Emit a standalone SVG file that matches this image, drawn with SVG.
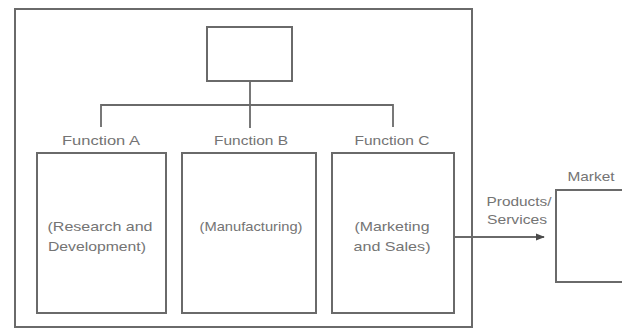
<svg xmlns="http://www.w3.org/2000/svg" width="622" height="329" viewBox="0 0 622 329">
  <style>
    .box { fill: #ffffff; stroke: #6a6a6a; stroke-width: 2; }
    .line { fill: none; stroke: #6a6a6a; stroke-width: 1.8; }
    .lbl { font-family: "Liberation Sans", Arial, sans-serif; font-size: 13px; fill: #747474; text-anchor: middle; }
  </style>
  <defs>
    <marker id="arrow" viewBox="0 0 10 10" refX="9" refY="5" markerWidth="5" markerHeight="5" orient="auto">
      <path d="M0,1 L10,5 L0,9 z" fill="#4a4a4a"/>
    </marker>
  </defs>
  <rect width="622" height="329" fill="#ffffff"/>

  <g id="organization">
    <rect class="box" x="15" y="9" width="457" height="318"/>
  </g>

  <g id="top">
    <rect class="box" x="207" y="27" width="85" height="54"/>
  </g>

  <g id="connectors">
    <path class="line" d="M250,81 V128 M101,127 V105 H393 V127"/>
    <line class="line" x1="454" y1="237" x2="544" y2="237" marker-end="url(#arrow)"/>
  </g>

  <g id="function-a">
    <text class="lbl" x="101" y="145" textLength="78" lengthAdjust="spacingAndGlyphs">Function A</text>
    <rect class="box" x="37" y="153" width="129" height="160"/>
    <text class="lbl" x="100" y="231" textLength="105" lengthAdjust="spacingAndGlyphs">(Research and</text>
    <text class="lbl" x="97" y="251" textLength="98" lengthAdjust="spacingAndGlyphs">Development)</text>
  </g>

  <g id="function-b">
    <text class="lbl" x="251" y="145" textLength="74" lengthAdjust="spacingAndGlyphs">Function B</text>
    <rect class="box" x="182" y="153" width="134" height="160"/>
    <text class="lbl" x="251" y="231" textLength="103" lengthAdjust="spacingAndGlyphs">(Manufacturing)</text>
  </g>

  <g id="function-c">
    <text class="lbl" x="392" y="145" textLength="75" lengthAdjust="spacingAndGlyphs">Function C</text>
    <rect class="box" x="332" y="153" width="122" height="160"/>
    <text class="lbl" x="392" y="231" textLength="75" lengthAdjust="spacingAndGlyphs">(Marketing</text>
    <text class="lbl" x="392" y="251" textLength="77" lengthAdjust="spacingAndGlyphs">and Sales)</text>
  </g>

  <g id="flow-label">
    <text class="lbl" x="519" y="206" textLength="65" lengthAdjust="spacingAndGlyphs">Products/</text>
    <text class="lbl" x="517" y="224" textLength="60" lengthAdjust="spacingAndGlyphs">Services</text>
  </g>

  <g id="market">
    <text class="lbl" x="591" y="181" textLength="47" lengthAdjust="spacingAndGlyphs">Market</text>
    <rect class="box" x="556" y="190" width="80" height="92"/>
  </g>
</svg>
